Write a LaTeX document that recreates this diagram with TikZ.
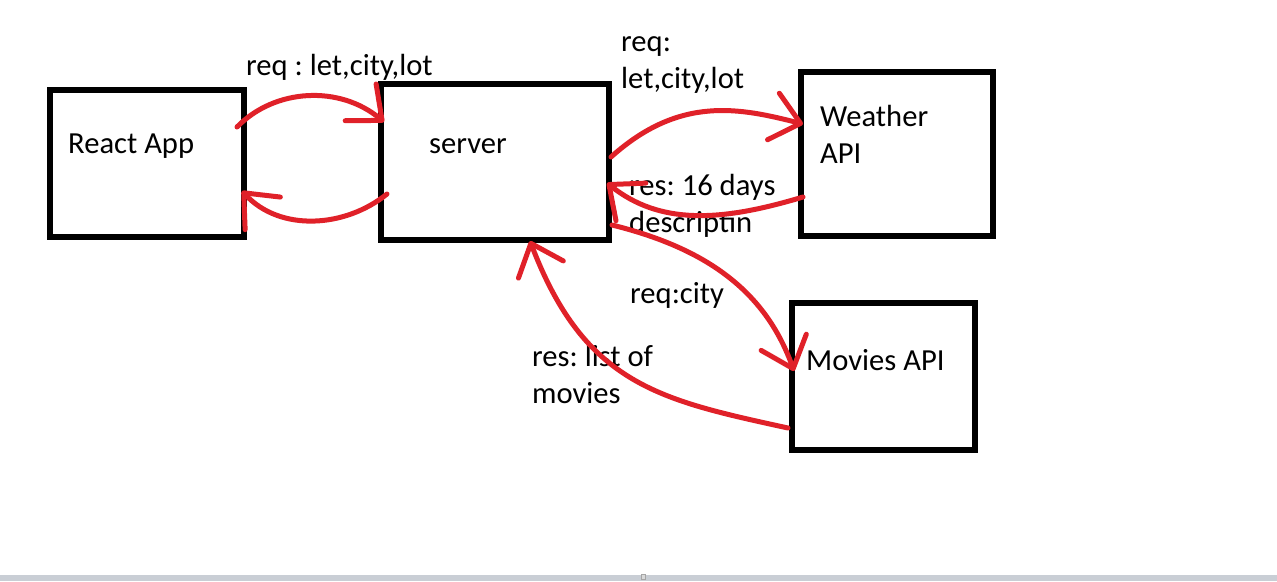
\documentclass[tikz,border=0pt]{standalone}
\usepackage{fontspec}
\setmainfont{Carlito}
\usetikzlibrary{arrows.meta}
\definecolor{penred}{HTML}{E02129}
\definecolor{barbg}{HTML}{C9CED5}
\frenchspacing
\tikzset{
  box/.style={draw=black, line width=6pt, inner sep=0pt, fill=none},
  lbl/.style={anchor=base west, inner sep=0pt, font=\fontsize{30.6}{37}\selectfont\frenchspacing, align=left},
  flow/.style={draw=penred, line width=5pt, line cap=round,
    -{Straight Barb[length=28pt, width=48pt, line width=5pt, round]}},
}
\begin{document}
\begin{tikzpicture}[x=1pt, y=-1pt]
\useasboundingbox (0,0) rectangle (1277,581);
\fill[white] (0,0) rectangle (1277,581);
\fill[barbg] (0,575) rectangle (1277,581);
\draw[gray!70, fill=gray!30, line width=0.6pt] (641,574.5) rectangle (645,579.5);

% boxes
\node[box, minimum width=194pt, minimum height=147pt] (react) at (147.25,163.5) {};
\node[box, minimum width=228pt, minimum height=156.5pt] (server) at (495,161.75) {};
\node[box, minimum width=192pt, minimum height=164pt] (weather) at (897,154) {};
\node[box, minimum width=183pt, minimum height=147pt] (movies) at (883.5,376.5) {};

% box texts (anchor = baseline of last line)
\node[lbl] (treact) at (68,153) {React App};
\node[lbl] (tserver) at (429,153) {server};
\node[lbl] (tweather) at (820,163) {Weather\\API};
\node[lbl] (tmovies) at (806,370) {Movies API};

% connector labels
\node[lbl] (l1) at (246,75) {req : let,city,lot};
\node[lbl] (l2) at (621,88) {req:\\let,city,lot};
\node[lbl] (l3) at (629,232) {res: 16 days\\descriptin};
\node[lbl] (l4) at (630,303) {req:city};
\node[lbl] (l5) at (532,403) {res: list of\\movies};

% connector end points
\coordinate (a1) at (237,127);  \coordinate (b1) at (384,122);
\coordinate (a2) at (387,194);  \coordinate (b2) at (242,191);
\coordinate (a3) at (611,157);  \coordinate (b3) at (803,124);
\coordinate (a4) at (803,197);  \coordinate (b4) at (607,183);
\coordinate (a5) at (612,225);  \coordinate (b5) at (794,371);
\coordinate (a6) at (788,428);  \coordinate (b6) at (530,241);

% connectors
\draw[flow] (a1) .. controls (275,88) and (340,85) .. (b1);
\draw[flow] (a2) .. controls (345,228) and (280,232) .. (b2);
\draw[flow] (a3) .. controls (680,95) and (740,108) .. (b3);
\draw[flow] (a4) .. controls (720,222) and (660,225) .. (b4);
\draw[flow] (a5) .. controls (705,248) and (765,290) .. (b5);
\draw[flow] (a6) .. controls (660,400) and (585,385) .. (b6);
\end{tikzpicture}
\end{document}
